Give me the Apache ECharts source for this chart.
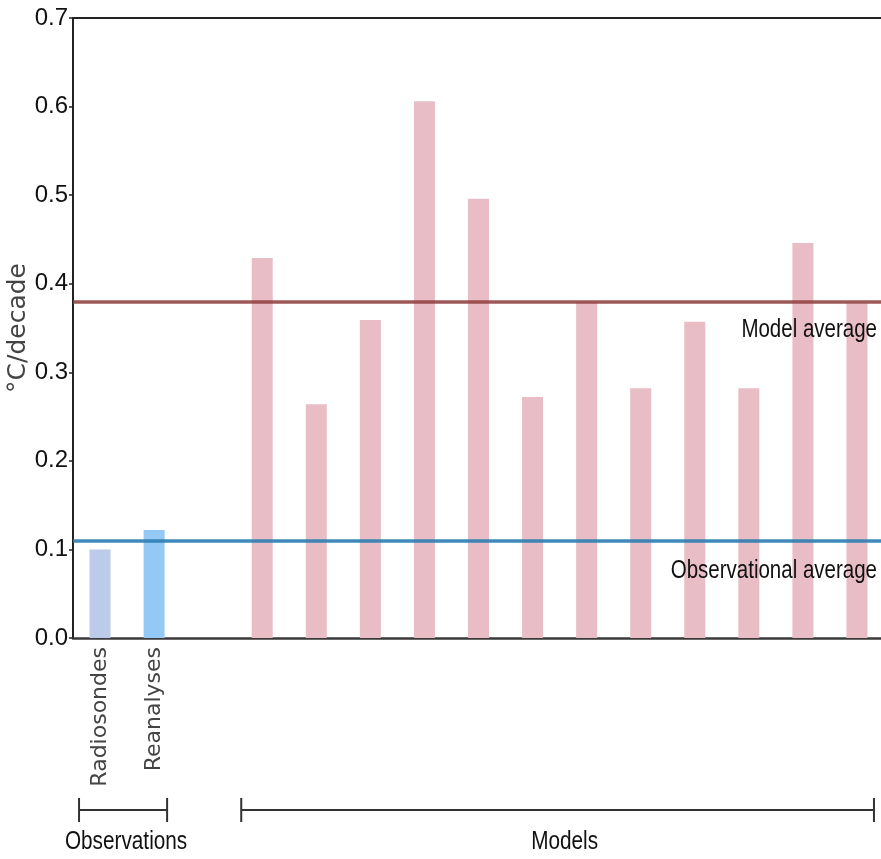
<!DOCTYPE html>
<html>
<head>
<meta charset="utf-8">
<script src="https://cdn.jsdelivr.net/npm/echarts@6/dist/echarts.min.js"></script>
<style>html,body{margin:0;padding:0;background:#fff;}#c{width:881px;height:859px;}</style>
</head>
<body>
<div id="c"></div>
<script>
var obsCategories = ['Radiosondes', 'Reanalyses'];
var obsValues = [0.10, 0.122];
var modelCategories = ['Model 1','Model 2','Model 3','Model 4','Model 5','Model 6','Model 7','Model 8','Model 9','Model 10','Model 11','Model 12'];
var modelValues = [0.429, 0.264, 0.359, 0.606, 0.496, 0.272, 0.379, 0.282, 0.357, 0.282, 0.446, 0.378];
var modelAverage = 0.381;
var obsAverage = 0.111;
var yTicks = [0.0, 0.1, 0.2, 0.3, 0.4, 0.5, 0.6, 0.7];
var groupLabels = ['Observations', 'Models'];
var lineLabels = ['Model average', 'Observational average'];

var obsColors = ['#bccbe9', '#94c9f5'];
var modelColor = '#e8bdc6';
var sans = '"Liberation Sans", Arial, sans-serif';

var categories = obsCategories.concat(['']).concat(modelCategories);
var barData = [];
obsValues.forEach(function (v, i) { barData.push({ value: v, itemStyle: { color: obsColors[i] } }); });
barData.push('-');
modelValues.forEach(function (v) { barData.push({ value: v, itemStyle: { color: modelColor } }); });

var chart = echarts.init(document.getElementById('c'));
var option = {
  animation: false,
  backgroundColor: '#fff',
  grid: { left: 73, right: -3, top: 18, bottom: 221, containLabel: false, outerBoundsMode: 'none' },
  xAxis: [{
    type: 'category',
    data: categories,
    axisLine: { show: true, lineStyle: { color: '#3a3a3a', width: 2.5 } },
    axisTick: { show: false },
    axisLabel: {
      rotate: 90,
      margin: 9,
      interval: 0,
      fontFamily: '"DejaVu Sans", sans-serif',
      fontSize: 22,
      color: '#444',
      formatter: function (v) { return obsCategories.indexOf(v) >= 0 ? v : ''; }
    },
    splitLine: { show: false }
  }, {
    type: 'category',
    position: 'top',
    data: categories,
    axisLine: { show: true, lineStyle: { color: '#222', width: 2 } },
    axisTick: { show: false },
    axisLabel: { show: false },
    splitLine: { show: false }
  }],
  yAxis: {
    type: 'value',
    min: yTicks[0],
    max: yTicks[yTicks.length - 1],
    interval: 0.1,
    name: '°C/decade',
    nameLocation: 'middle',
    nameRotate: 90,
    nameGap: 42,
    nameMoveOverlap: false,
    nameTextStyle: { fontFamily: '"DejaVu Sans", sans-serif', fontSize: 25, color: '#444' },
    axisLine: { show: true, lineStyle: { color: '#222', width: 2 } },
    axisTick: { show: true, length: 4, lineStyle: { color: '#222', width: 1.5 } },
    axisLabel: {
      margin: 5,
      fontFamily: sans,
      fontSize: 24,
      color: '#111',
      formatter: function (v) { return v.toFixed(1); }
    },
    splitLine: { show: false }
  },
  series: [{
    type: 'bar',
    data: barData,
    barWidth: 21,
    markLine: {
      symbol: 'none',
      silent: true,
      label: { show: false },
      data: [
        { yAxis: modelAverage, lineStyle: { color: '#8e3b3b', width: 3.5, type: 'solid', opacity: 0.85 } },
        { yAxis: obsAverage, lineStyle: { color: '#2a7db2', width: 3.5, type: 'solid', opacity: 0.9 } }
      ]
    }
  }]
};
chart.setOption(option);

function px(idx, val) { return chart.convertToPixel({ xAxisIndex: 0, yAxisIndex: 0 }, [idx, val]); }
var yModel = px(0, modelAverage)[1];
var yObs = px(0, obsAverage)[1];
var obsStart = px(0, 0)[0] - 21;
var obsEnd = px(obsCategories.length - 1, 0)[0] + 13;
var modStart = px(obsCategories.length + 1, 0)[0] - 21;
var modEnd = px(categories.length - 1, 0)[0] + 17;
var bracketY = 810;

function bracket(x1, x2) {
  var st = { stroke: '#333', lineWidth: 2 };
  return [
    { type: 'line', z: 100, shape: { x1: x1, y1: bracketY, x2: x2, y2: bracketY }, style: st },
    { type: 'line', z: 100, shape: { x1: x1, y1: bracketY - 12, x2: x1, y2: bracketY + 12 }, style: st },
    { type: 'line', z: 100, shape: { x1: x2, y1: bracketY - 12, x2: x2, y2: bracketY + 12 }, style: st }
  ];
}
function label(t, x, y, align, sx) {
  return { type: 'text', z: 100, x: x, y: y, scaleX: sx, style: { text: t, fill: '#111', font: '25px ' + sans, textAlign: align, textVerticalAlign: 'middle' } };
}
var g = [].concat(bracket(obsStart, obsEnd), bracket(modStart, modEnd));
g.push(label(groupLabels[0], (obsStart + obsEnd) / 2 + 3, 842, 'center', 0.83));
g.push(label(groupLabels[1], (modStart + modEnd) / 2 + 7, 842, 'center', 0.83));
g.push(label(lineLabels[0], 877, yModel + 30, 'right', 0.82));
g.push(label(lineLabels[1], 877, yObs + 31, 'right', 0.82));
chart.setOption({ graphic: g });
</script>
</body>
</html>
